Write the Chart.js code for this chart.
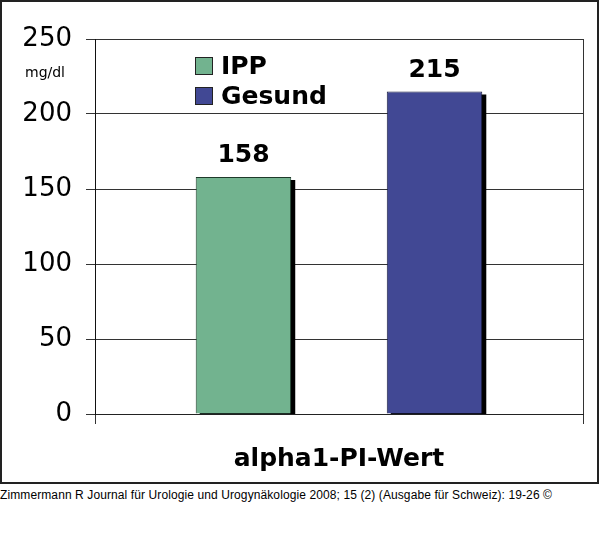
<!DOCTYPE html>
<html lang="de">
<head>
    <meta charset="UTF-8">
    <title>alpha1-PI-Wert</title>
    <script src="https://cdn.jsdelivr.net/npm/chart.js"></script>
    <style>
        body {
            margin: 0;
            padding: 0;
            background: #fff;
            width: 600px;
            height: 545px;
            position: relative;
            overflow: hidden;
        }
        .frame {
            position: absolute;
            left: 0;
            top: 0;
            width: 599px;
            height: 484px;
            box-sizing: border-box;
            border: 2px solid #222;
        }
        #chart {
            position: absolute;
            left: 0;
            top: 0;
        }
        .source {
            position: absolute;
            left: 0;
            top: 488px;
            font-family: "Liberation Sans", Arial, sans-serif;
            font-size: 12px;
            letter-spacing: 0.1px;
            color: #000;
            white-space: nowrap;
        }
    </style>
</head>
<body>
    <div class="frame"></div>
    <canvas id="chart" width="600" height="484"></canvas>
    <div class="source">Zimmermann R Journal für Urologie und Urogynäkologie 2008; 15 (2) (Ausgabe für Schweiz): 19-26 ©</div>

    <script>
        // chart data
        const categories = ['alpha1-PI-Wert'];
        const seriesNames = ['IPP', 'Gesund'];
        const ippValues = [158];
        const gesundValues = [215];
        const yTicks = [0, 50, 100, 150, 200, 250];
        const unitLabel = 'mg/dl';

        const seriesColors = ['#72b38f', '#414894'];

        // black drop shadow behind each bar, like the old Excel chart
        const barShadow = {
            id: 'barShadow',
            beforeDatasetsDraw(chart) {
                const ctx = chart.ctx;
                const area = chart.chartArea;
                ctx.save();
                ctx.beginPath();
                ctx.rect(area.left, area.top, area.right - area.left, area.bottom - area.top);
                ctx.clip();
                ctx.fillStyle = '#000';
                chart.data.datasets.forEach((ds, i) => {
                    chart.getDatasetMeta(i).data.forEach(bar => {
                        const w = bar.width;
                        ctx.fillRect(bar.x - w / 2 + 4, bar.y + 3, w, bar.base - bar.y);
                    });
                });
                ctx.restore();
            }
        };

        // value labels, legend inside plot and unit text
        const extras = {
            id: 'extras',
            afterDatasetsDraw(chart) {
                const ctx = chart.ctx;
                const area = chart.chartArea;
                ctx.save();

                ctx.fillStyle = '#000';
                ctx.font = 'bold 25px "DejaVu Sans", Verdana, sans-serif';
                ctx.textAlign = 'center';
                ctx.textBaseline = 'alphabetic';
                chart.data.datasets.forEach((ds, i) => {
                    chart.getDatasetMeta(i).data.forEach((bar, j) => {
                        ctx.fillText(String(ds.data[j]), bar.x, bar.y - 15);
                    });
                });

                // legend
                const lx = area.left + 100;
                let ly = area.top + 18;
                ctx.textAlign = 'left';
                ctx.textBaseline = 'middle';
                chart.data.datasets.forEach((ds, i) => {
                    ctx.fillStyle = ds.backgroundColor;
                    ctx.fillRect(lx, ly + 0.5, 17, 17);
                    ctx.strokeStyle = '#222';
                    ctx.lineWidth = 1;
                    ctx.strokeRect(lx + 0.5, ly + 0.5, 17, 17);
                    ctx.fillStyle = '#000';
                    ctx.fillText(ds.label, lx + 26, ly + 10);
                    ly += 30;
                });

                // unit under the top tick
                ctx.font = '14px "DejaVu Sans", Verdana, sans-serif';
                ctx.textAlign = 'center';
                ctx.fillText(unitLabel, 45, 73);

                ctx.restore();
            }
        };

        const ctx = document.getElementById('chart').getContext('2d');
        new Chart(ctx, {
            type: 'bar',
            data: {
                labels: categories,
                datasets: [{
                    label: seriesNames[0],
                    data: ippValues,
                    backgroundColor: seriesColors[0],
                    borderColor: '#1e3a2a',
                    borderWidth: 1
                }, {
                    label: seriesNames[1],
                    data: gesundValues,
                    backgroundColor: seriesColors[1],
                    borderColor: '#1a1d40',
                    borderWidth: 1
                }]
            },
            options: {
                responsive: false,
                animation: false,
                categoryPercentage: 0.783,
                barPercentage: 0.5,
                layout: {
                    padding: { left: 0, top: 39, right: 17, bottom: 0 }
                },
                plugins: {
                    legend: { display: false },
                    tooltip: { enabled: false }
                },
                scales: {
                    x: {
                        grid: {
                            offset: true,
                            color: '#333',
                            tickLength: 10
                        },
                        border: { color: '#222' },
                        ticks: {
                            color: '#000',
                            padding: 20,
                            font: { family: '"DejaVu Sans", Verdana, sans-serif', size: 25, weight: 'bold' }
                        },
                        afterFit(scale) { scale.height = 70; }
                    },
                    y: {
                        min: 0,
                        max: 250,
                        afterBuildTicks(scale) {
                            scale.ticks = yTicks.map(v => ({ value: v }));
                        },
                        grid: {
                            color: '#333',
                            tickLength: 9
                        },
                        border: { color: '#111' },
                        ticks: {
                            color: '#000',
                            padding: 14,
                            font: { family: '"DejaVu Sans", Verdana, sans-serif', size: 26 }
                        },
                        afterFit(scale) { scale.width = 95; }
                    }
                }
            },
            plugins: [barShadow, extras]
        });
    </script>
</body>
</html>
